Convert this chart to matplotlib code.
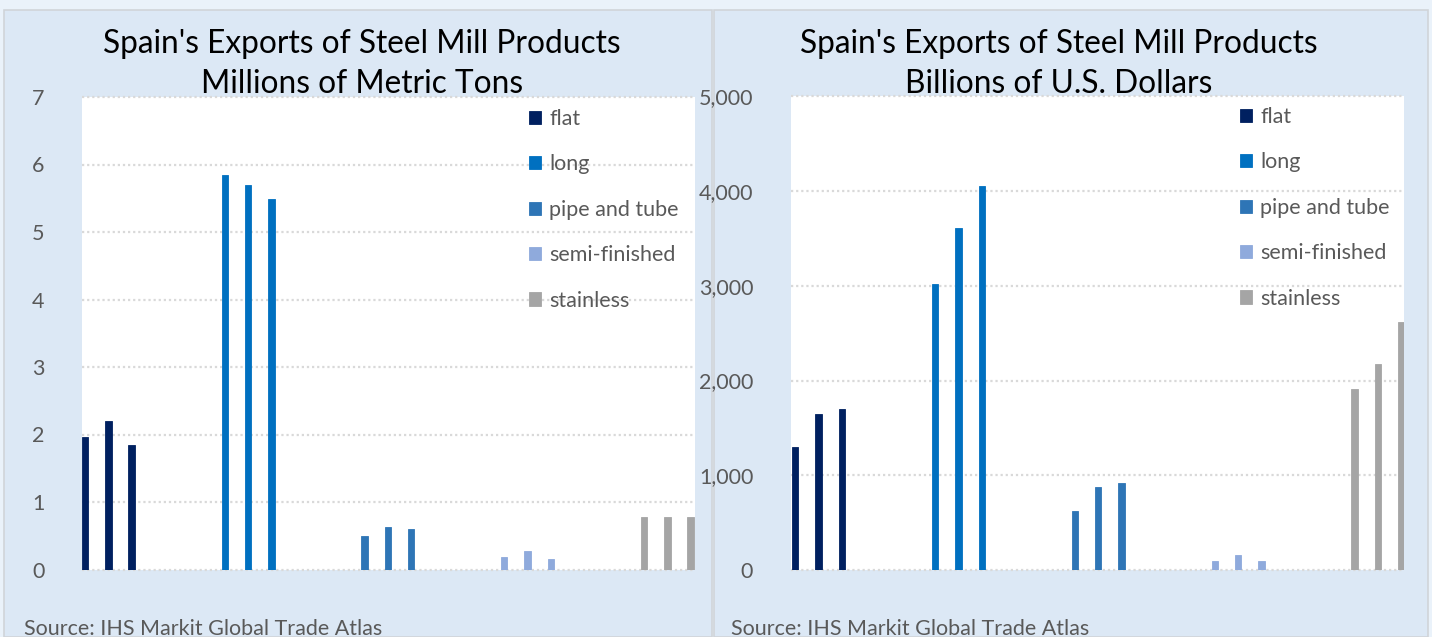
import matplotlib
matplotlib.use("Agg")
import matplotlib.pyplot as plt
from matplotlib.patches import Rectangle
from matplotlib.ticker import FuncFormatter

# ---------------- data ----------------
products = ["flat", "long", "pipe and tube", "semi-finished", "stainless"]
colors = ["#002060", "#0070C0", "#2E75B6", "#8FAADC", "#A5A5A5"]

tons_flat = [1.96, 2.20, 1.84]
tons_long = [5.84, 5.70, 5.49]
tons_pipe = [0.49, 0.63, 0.60]
tons_semi = [0.19, 0.28, 0.16]
tons_stainless = [0.78, 0.78, 0.78]

usd_flat = [1300, 1652, 1698]
usd_long = [3020, 3607, 4054]
usd_pipe = [622, 875, 918]
usd_semi = [98, 158, 98]
usd_stainless = [1909, 2179, 2619]

tons_ticks = [0, 1, 2, 3, 4, 5, 6, 7]
usd_ticks = [0, 1000, 2000, 3000, 4000, 5000]

title_line1 = "Spain's Exports of Steel Mill Products"
title_left = "Millions of Metric Tons"
title_right = "Billions of U.S. Dollars"
source = "Source: IHS Markit Global Trade Atlas"

# ---------------- figure ----------------
W, H = 1432, 637
fig = plt.figure(figsize=(W / 100, H / 100), dpi=100)
fig.patch.set_facecolor("#EAF2FA")

FONT = ["Lato", "DejaVu Sans"]
TXT = "#595959"
LBL = 15.5


def fx(x):
    return x / W


def fy(y):
    return 1 - y / H


# panel backgrounds
for x0, x1 in [(4, 712), (714, 1428)]:
    fig.patches.append(Rectangle((fx(x0), 0), fx(x1 - x0), fy(10),
                                 transform=fig.transFigure,
                                 facecolor="#DCE8F5", edgecolor="#D0D4D9",
                                 linewidth=1.2, zorder=-5))


def make_axes(px_left, px_top, px_right, px_bottom):
    ax = fig.add_axes([fx(px_left), fy(px_bottom),
                       fx(px_right - px_left), (px_bottom - px_top) / H])
    ax.set_zorder(2)
    return ax


def draw_panel(ax, series, ticks, xlim, fmt, legend_xy, bar_w):
    for i, (vals, c) in enumerate(zip(series, colors)):
        xs = [6 * i + j for j in range(len(vals))]
        ax.bar(xs, vals, width=bar_w, color=c, edgecolor=c, linewidth=0.6,
               label=products[i], zorder=3)
    ax.set_xlim(*xlim)
    ax.set_ylim(ticks[0], ticks[-1])
    ax.set_yticks(ticks)
    ax.yaxis.set_major_formatter(FuncFormatter(fmt))
    ax.set_xticks([])
    for s in ax.spines.values():
        s.set_visible(False)
    ax.set_facecolor("white")
    ax.grid(axis="y", color="#D9D9D9", linestyle=(0, (1, 1.3)),
            linewidth=1.6, zorder=0)
    ax.set_axisbelow(True)
    ax.tick_params(axis="y", length=0, pad=27, labelsize=LBL, labelcolor=TXT)
    for lb in ax.get_yticklabels():
        lb.set_fontfamily(FONT)
    leg = ax.legend(loc="upper left",
                    bbox_to_anchor=(fx(legend_xy[0]), fy(legend_xy[1])),
                    bbox_transform=fig.transFigure, frameon=False,
                    prop={"family": FONT, "size": LBL},
                    handlelength=0.56, handleheight=0.56,
                    handletextpad=0.37, labelspacing=1.18,
                    borderpad=0, borderaxespad=0)
    for t in leg.get_texts():
        t.set_color(TXT)
    for gl in ax.get_ygridlines():
        gl.set_clip_on(False)


axL = make_axes(82, 97, 694.5, 569.5)
draw_panel(axL, [tons_flat, tons_long, tons_pipe, tons_semi, tons_stainless],
           tons_ticks, (-0.13, 26.17), lambda v, p: f"{v:.0f}", (529, 109), 0.28)

axR = make_axes(790.7, 96, 1404, 570.3)
draw_panel(axR, [usd_flat, usd_long, usd_pipe, usd_semi, usd_stainless],
           usd_ticks, (-0.197, 26.12), lambda v, p: f"{v:,.0f}", (1240, 107), 0.27)

# titles
for cx, sub in [(362, title_left), (1059, title_right)]:
    fig.text(fx(cx), fy(53), title_line1, ha="center", va="baseline",
             fontsize=22.8, family=FONT, color="black", zorder=10)
    fig.text(fx(cx), fy(93), sub, ha="center", va="baseline",
             fontsize=22.8, family=FONT, color="black", zorder=10)

# source
for sx in [24, 731]:
    fig.text(fx(sx), fy(635), source, ha="left", va="baseline",
             fontsize=15.5, family=FONT, color=TXT)

fig.savefig("out.png", dpi=100, facecolor=fig.get_facecolor())
